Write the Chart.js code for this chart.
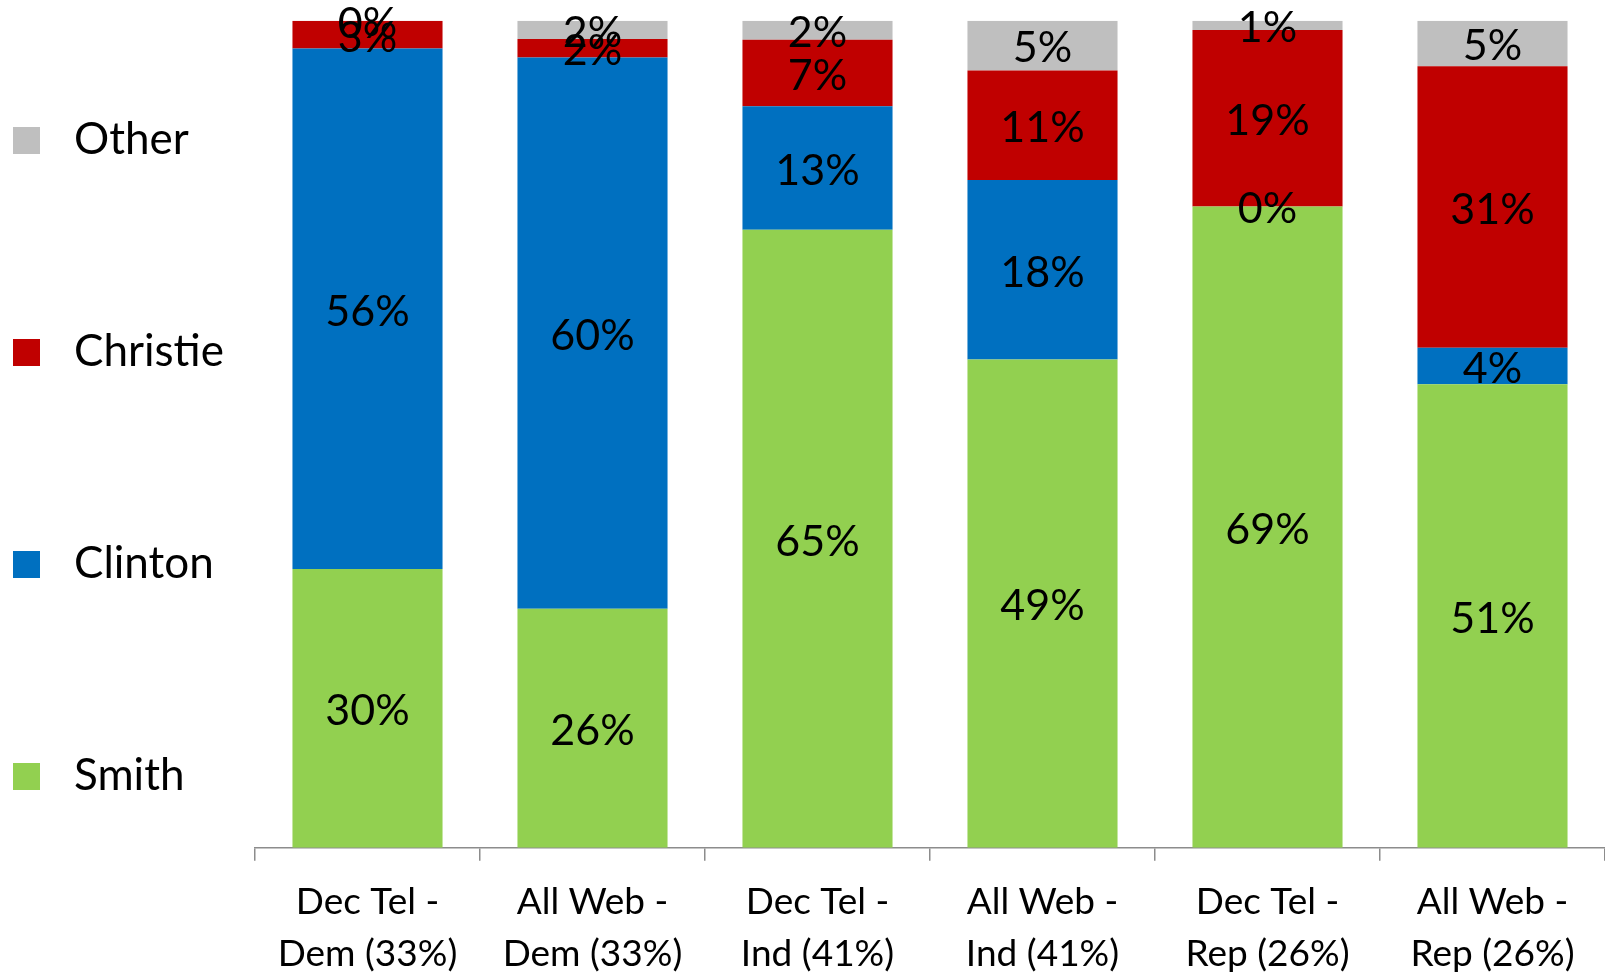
<!DOCTYPE html>
<html><head><meta charset="utf-8">
<script src="https://cdn.jsdelivr.net/npm/chart.js@4/dist/chart.umd.min.js"></script>
<style>
html,body{margin:0;padding:0;background:#fff;}
#wrap{position:relative;width:1605px;height:976px;overflow:hidden;}
#legend{position:absolute;left:0;top:0;width:250px;height:976px;}
.li{position:absolute;left:13px;height:60px;margin-top:-30px;display:flex;align-items:center;font-family:Lato,sans-serif;font-size:44px;color:#000;white-space:nowrap;}
.sw{width:27px;height:27px;margin-right:34px;flex:none;}
.tx{position:relative;top:-3px;}
</style></head>
<body><div id="wrap"><canvas id="c" width="1605" height="976"></canvas><div id="legend"></div></div>
<script>
const categories = [["Dec Tel -","Dem (33%)"],["All Web -","Dem (33%)"],["Dec Tel -","Ind (41%)"],["All Web -","Ind (41%)"],["Dec Tel -","Rep (26%)"],["All Web -","Rep (26%)"]];
const smith    = [30, 26, 65, 49, 69, 51];
const clinton  = [56, 60, 13, 18, 0, 4];
const christie = [3, 2, 7, 11, 19, 31];
const other    = [0, 2, 2, 5, 1, 5];
const seriesNames  = ["Smith", "Clinton", "Christie", "Other"];
const seriesColors = ["#92D050", "#0070C0", "#C00000", "#BFBFBF"];

const seriesValues = [smith, clinton, christie, other];
const totals = categories.map((_, j) => seriesValues.reduce((s, arr) => s + arr[j], 0));

const datasets = seriesValues.map((vals, i) => ({
  label: seriesNames[i],
  rawValues: vals,
  data: vals.map((v, j) => v / totals[j] * 100),
  backgroundColor: seriesColors[i],
  borderWidth: 0,
  barPercentage: 1,
  categoryPercentage: 0.667
}));

const segLabels = {
  id: 'segLabels',
  afterDatasetsDraw(chart) {
    const ctx = chart.ctx;
    ctx.save();
    ctx.font = '43px Lato';
    ctx.fillStyle = '#000';
    ctx.textAlign = 'center';
    ctx.textBaseline = 'middle';
    chart.data.datasets.forEach((ds, i) => {
      chart.getDatasetMeta(i).data.forEach((bar, j) => {
        const y = (bar.y + bar.base) / 2;
        ctx.fillText(ds.rawValues[j] + '%', bar.x, y + 3);
      });
    });
    ctx.restore();
  }
};

function build() {
  const chart = new Chart(document.getElementById('c'), {
    type: 'bar',
    data: { labels: categories, datasets },
    plugins: [segLabels],
    options: {
      responsive: false,
      animation: false,
      layout: { padding: { left: 255, top: 20.7, right: 0, bottom: 0 } },
      plugins: { legend: { display: false }, tooltip: { enabled: false } },
      scales: {
        x: {
          stacked: true,
          afterFit: (s) => { s.height = 128.3; },
          grid: { offset: true, drawOnChartArea: false, drawTicks: true, tickLength: 13, color: '#8c8c8c', lineWidth: 1.5 },
          border: { display: true, color: '#8c8c8c', width: 1.5 },
          ticks: { color: '#000', font: { family: 'Lato', size: 37, lineHeight: 1.42 }, padding: 15, maxRotation: 0, autoSkip: false }
        },
        y: { stacked: true, display: false, min: 0, max: 100 }
      }
    }
  });
  const legendCenters = [776, 564, 352, 140];
  const leg = document.getElementById('legend');
  chart.data.datasets.forEach((ds, i) => {
    const d = document.createElement('div');
    d.className = 'li';
    d.style.top = legendCenters[i] + 'px';
    const sw = document.createElement('span');
    sw.className = 'sw';
    sw.style.background = ds.backgroundColor;
    const t = document.createElement('span');
    t.className = 'tx';
    t.textContent = ds.label;
    d.appendChild(sw); d.appendChild(t);
    leg.appendChild(d);
  });
}
if (document.fonts && document.fonts.load) {
  Promise.all([document.fonts.load('43px Lato'), document.fonts.load('37px Lato')]).then(build, build);
} else build();
</script>
</body></html>
